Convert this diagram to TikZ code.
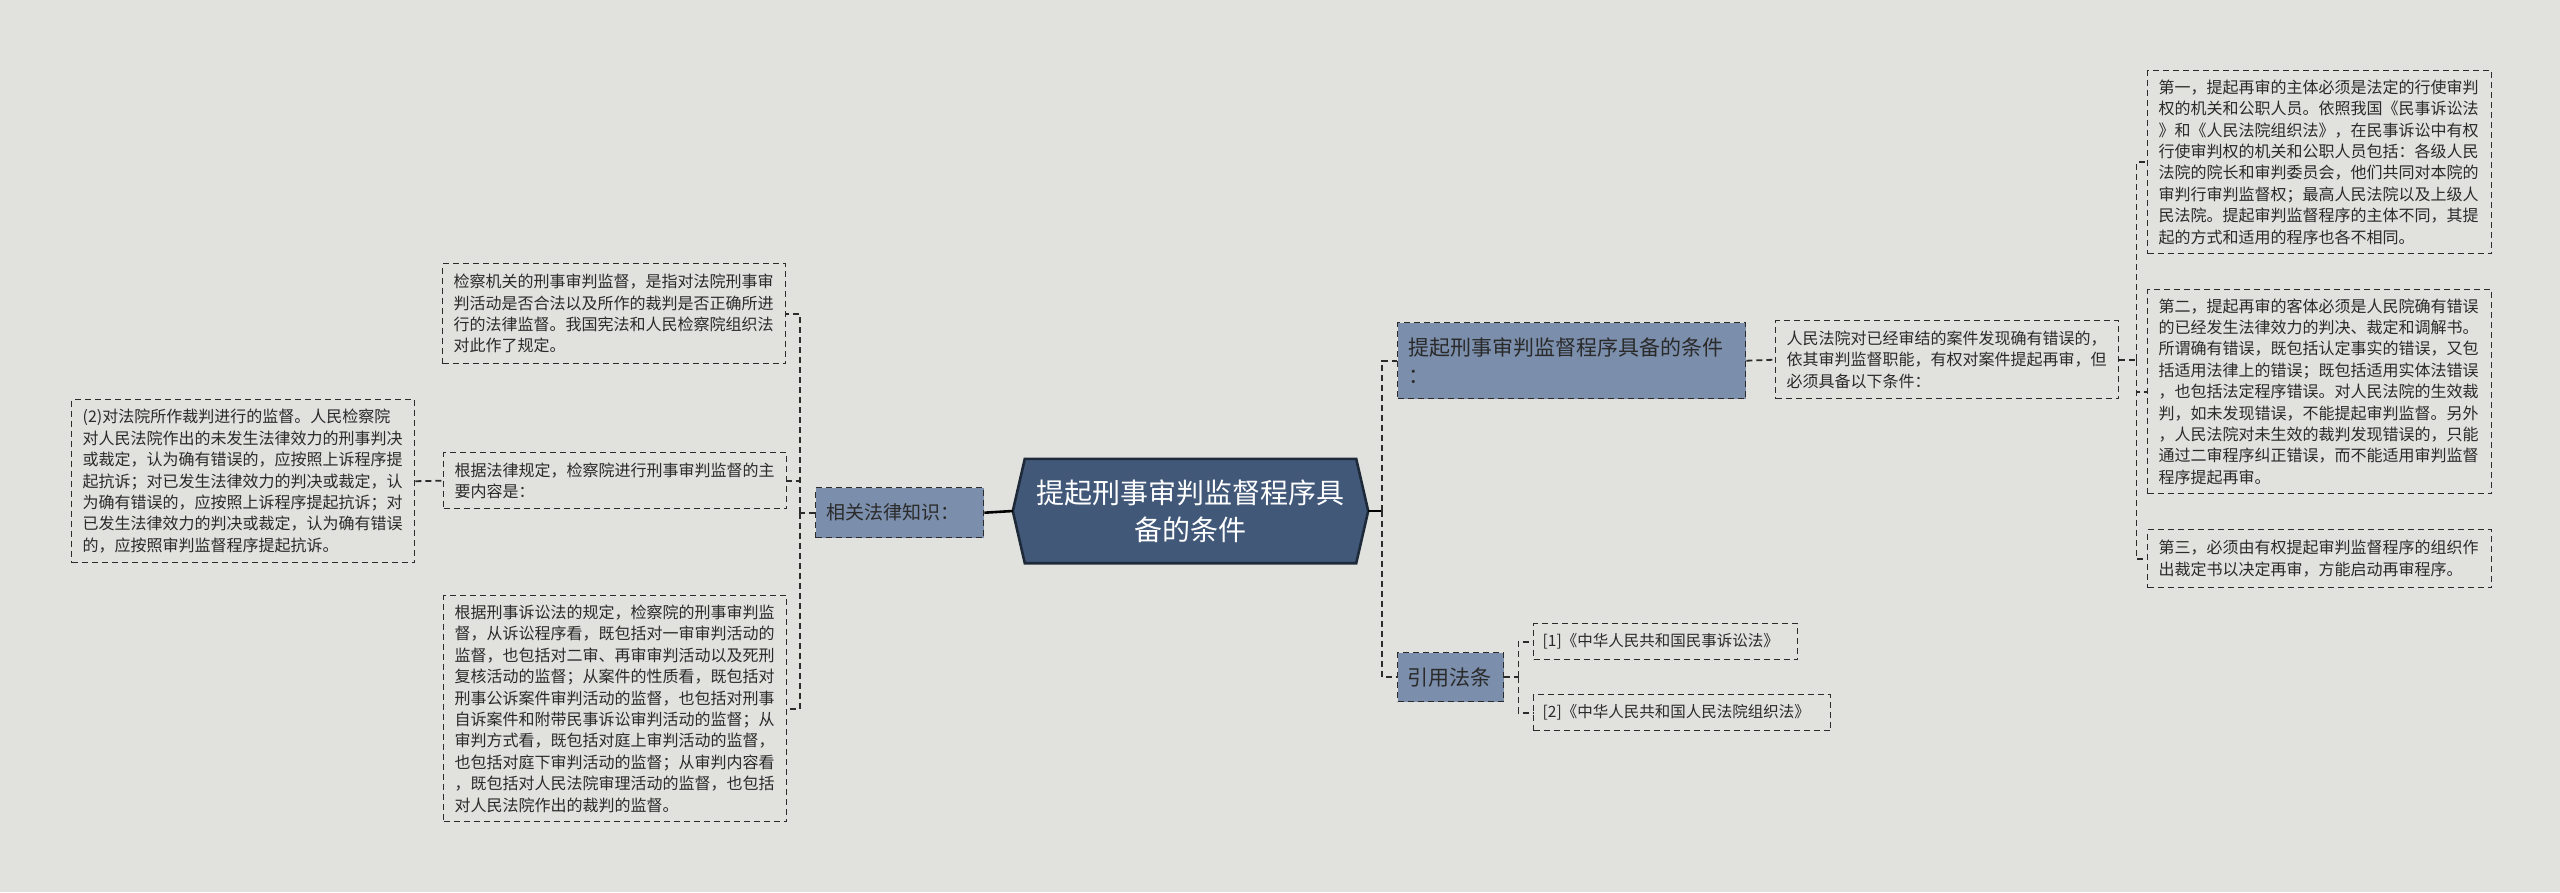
\documentclass[tikz,border=0pt]{standalone}
\usepackage{fontspec}
\setmainfont{Noto Sans CJK SC}
\XeTeXlinebreaklocale "zh"
\usetikzlibrary{backgrounds}
\definecolor{bg}{HTML}{E1E2DD}
\definecolor{hubfill}{HTML}{7B8EAC}
\definecolor{mainfill}{HTML}{415879}
\definecolor{mainedge}{HTML}{1E2A3A}
\definecolor{ink}{HTML}{2A2A2A}
\definecolor{edge}{HTML}{2B2B2B}
\begin{document}
\begin{tikzpicture}[x=1pt,y=-1pt,
  leaf/.style={draw=edge, line width=1.4pt, dash pattern=on 6pt off 4pt, anchor=north west,
    align=left, inner xsep=11pt, inner ysep=0pt, text=ink, font=\fontsize{16}{21.4}\selectfont},
  hub/.style={leaf, fill=hubfill},
  conn/.style={draw=edge, line width=1.8pt, dash pattern=on 6pt off 4pt},
  solidc/.style={draw=black, line width=2.6pt},
]
\useasboundingbox (0,0) rectangle (2560,892);

% centre
\node[text=white, font=\fontsize{28}{37}\selectfont, align=center, minimum width=355pt,
  minimum height=104pt, inner sep=0pt] (c) at (1190.5,511) {提起刑事审判监督程序具\\备的条件};

% left side
\node[hub, text width=146pt, minimum height=50pt, font=\fontsize{19}{24}\selectfont] (know) at (815,487) {相关法律知识：};
\node[leaf, text width=321pt, minimum height=100pt] (A) at (442,263) {检察机关的刑事审判监督，是指对法院刑事审\\判活动是否合法以及所作的裁判是否正确所进\\行的法律监督。我国宪法和人民检察院组织法\\对此作了规定。};
\node[leaf, text width=321pt, minimum height=56pt] (B) at (443,452) {根据法律规定，检察院进行刑事审判监督的主\\要内容是：};
\node[leaf, text width=321pt, minimum height=163pt] (C) at (71,399) {(2)对法院所作裁判进行的监督。人民检察院\\对人民法院作出的未发生法律效力的刑事判决\\或裁定，认为确有错误的，应按照上诉程序提\\起抗诉；对已发生法律效力的判决或裁定，认\\为确有错误的，应按照上诉程序提起抗诉；对\\已发生法律效力的判决或裁定，认为确有错误\\的，应按照审判监督程序提起抗诉。};
\node[leaf, text width=321pt, minimum height=226pt] (D) at (443,595) {根据刑事诉讼法的规定，检察院的刑事审判监\\督，从诉讼程序看，既包括对一审审判活动的\\监督，也包括对二审、再审审判活动以及死刑\\复核活动的监督；从案件的性质看，既包括对\\刑事公诉案件审判活动的监督，也包括对刑事\\自诉案件和附带民事诉讼审判活动的监督；从\\审判方式看，既包括对庭上审判活动的监督，\\也包括对庭下审判活动的监督；从审判内容看\\，既包括对人民法院审理活动的监督，也包括\\对人民法院作出的裁判的监督。};

% right side
\node[hub, text width=326pt, minimum height=76pt, font=\fontsize{21}{28}\selectfont] (cond) at (1397,322) {提起刑事审判监督程序具备的条件\\：};
\node[leaf, text width=321pt, minimum height=78pt] (desc) at (1775,320) {人民法院对已经审结的案件发现确有错误的，\\依其审判监督职能，有权对案件提起再审，但\\必须具备以下条件：};
\node[leaf, text width=322pt, minimum height=183pt] (R1) at (2147,70) {第一，提起再审的主体必须是法定的行使审判\\权的机关和公职人员。依照我国《民事诉讼法\\》和《人民法院组织法》，在民事诉讼中有权\\行使审判权的机关和公职人员包括：各级人民\\法院的院长和审判委员会，他们共同对本院的\\审判行审判监督权；最高人民法院以及上级人\\民法院。提起审判监督程序的主体不同，其提\\起的方式和适用的程序也各不相同。};
\node[leaf, text width=322pt, minimum height=204pt] (R2) at (2147,289) {第二，提起再审的客体必须是人民院确有错误\\的已经发生法律效力的判决、裁定和调解书。\\所谓确有错误，既包括认定事实的错误，又包\\括适用法律上的错误；既包括适用实体法错误\\，也包括法定程序错误。对人民法院的生效裁\\判，如未发现错误，不能提起审判监督。另外\\，人民法院对未生效的裁判发现错误的，只能\\通过二审程序纠正错误，而不能适用审判监督\\程序提起再审。};
\node[leaf, text width=322pt, minimum height=58pt] (R3) at (2147,529) {第三，必须由有权提起审判监督程序的组织作\\出裁定书以决定再审，方能启动再审程序。};
\node[hub, text width=86pt, inner xsep=10pt, minimum height=49pt, font=\fontsize{21}{26}\selectfont] (cite) at (1397,652) {引用法条};
\node[leaf, text width=246pt, minimum height=36pt, inner xsep=9pt, font=\fontsize{15.5}{20}\selectfont] (ref1) at (1533,623) {[1]《中华人民共和国民事诉讼法》};
\node[leaf, text width=279pt, minimum height=36pt, inner xsep=9pt, font=\fontsize{15.5}{20}\selectfont] (ref2) at (1533,694) {[2]《中华人民共和国人民法院组织法》};

\begin{pgfonlayer}{background}
  \fill[bg] (0,0) rectangle (2560,892);
  \path[fill=mainfill, draw=mainedge, line width=2.6pt, line join=miter]
    (c.west) -- ([xshift=12pt]c.north west) -- ([xshift=-12pt]c.north east) -- (c.east)
    -- ([xshift=-12pt]c.south east) -- ([xshift=12pt]c.south west) -- cycle;
\end{pgfonlayer}

% connectors
\draw[solidc] (know.east) -- (c.west);
\draw[conn] (know.west) -- ++(-15,0) coordinate (ls);
\draw[conn] (ls) |- (A.east);
\draw[conn] (ls) |- (B.east);
\draw[conn] (ls) |- (D.east);
\draw[conn] (C.east) -- (B.west);

\draw[solidc] (c.east) -- ++(14,0) coordinate (rs);
\draw[conn] (rs) |- (cond.west);
\draw[conn] (rs) |- (cite.west);
\draw[conn] (cond.east) -- (desc.west);
\draw[conn] (desc.east) -- ++(17,0) coordinate (ds);
\draw[conn] (ds) |- (R1.west);
\draw[conn] (ds) |- (R2.west);
\draw[conn] (ds) |- (R3.west);
\draw[conn] (cite.east) -- ++(14,0) coordinate (cs);
\draw[conn] (cs) |- (ref1.west);
\draw[conn] (cs) |- (ref2.west);
\end{tikzpicture}
\end{document}
